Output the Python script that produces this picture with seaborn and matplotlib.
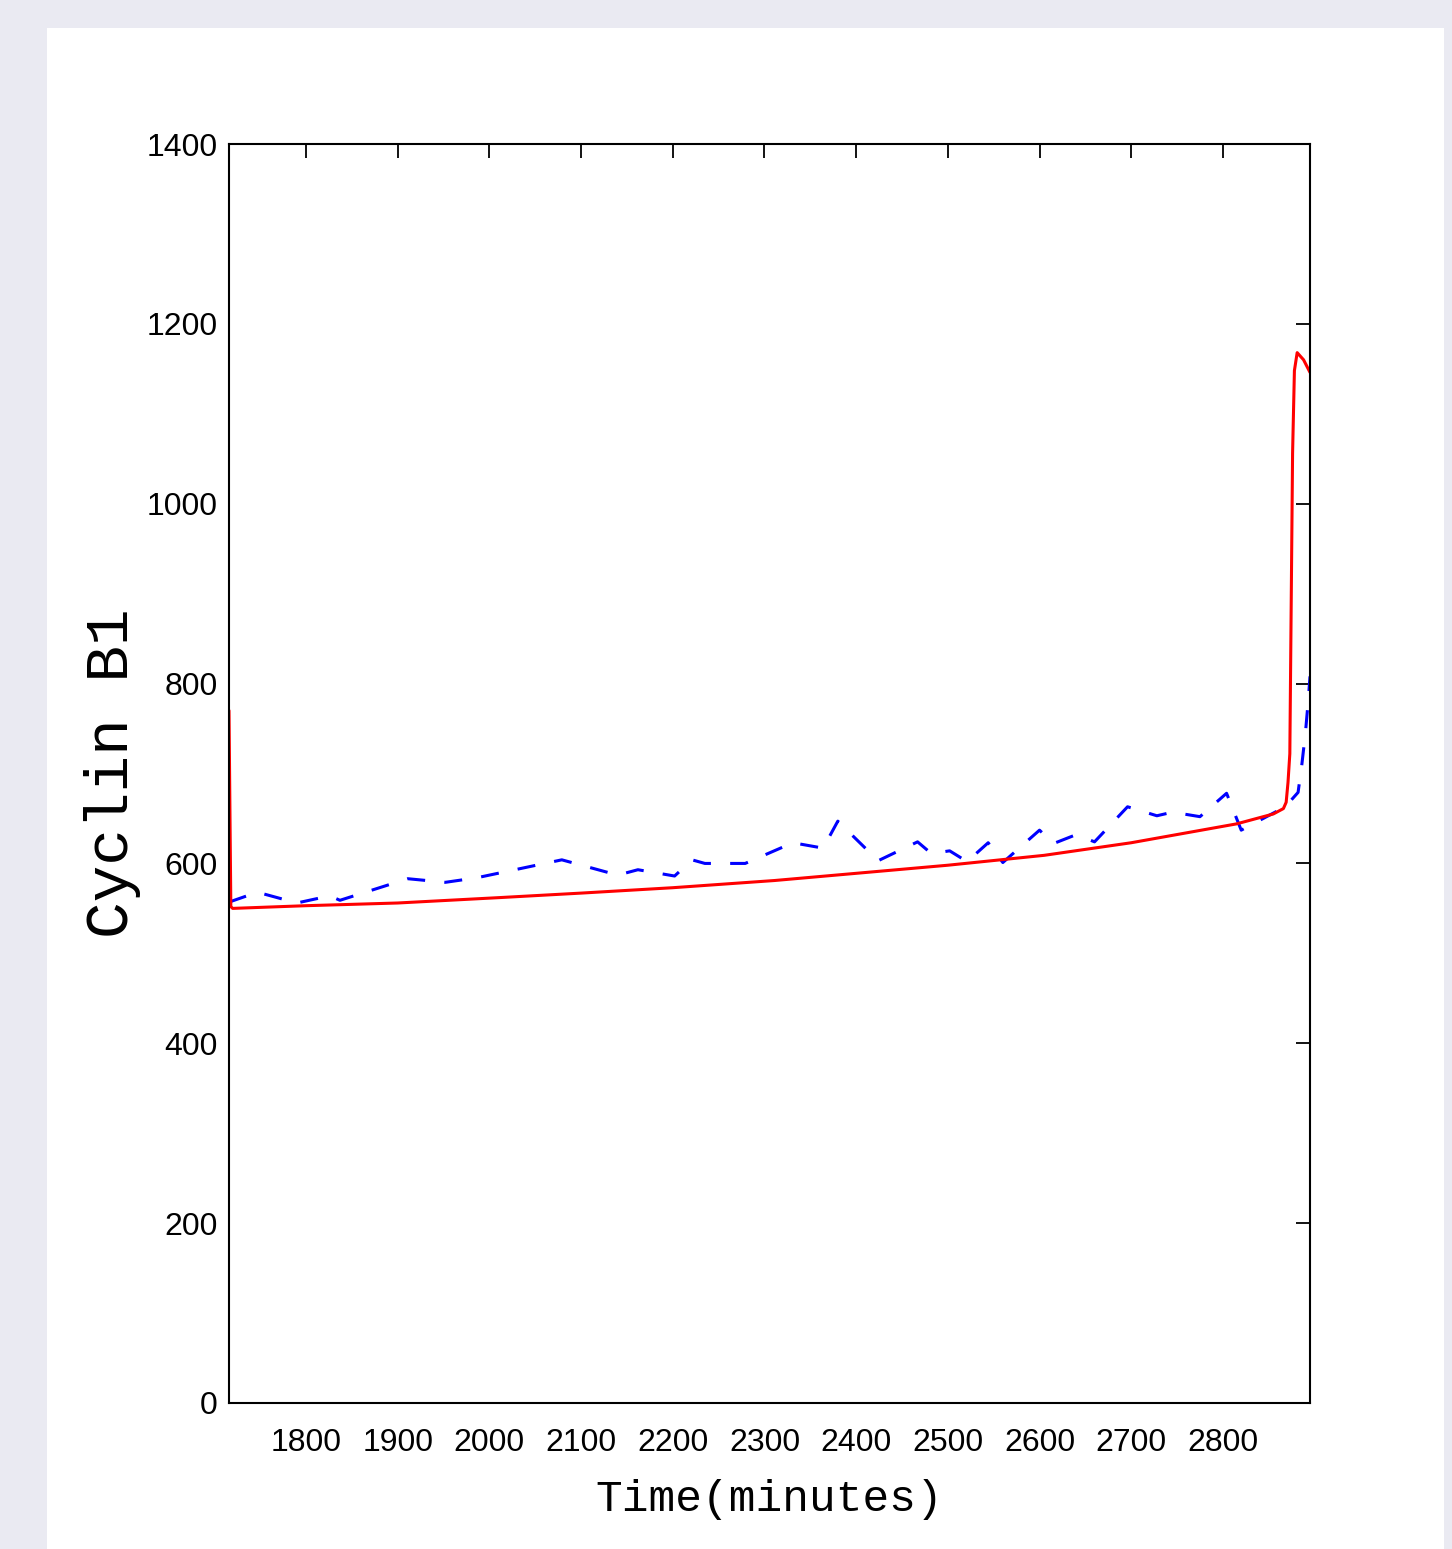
import numpy as np
import pandas as pd
import seaborn as sns
import matplotlib
matplotlib.use('Agg')
import matplotlib.pyplot as plt
from matplotlib.patches import Rectangle

# model curve (red)
model_t = [1716, 1718, 1720, 1800, 1900, 2011, 2100, 2200, 2311, 2400, 2500, 2605,
           2700, 2815, 2855, 2866, 2869, 2871, 2873, 2876, 2878, 2881, 2888, 2895]
model_cyc = [770, 552, 550, 553, 556, 562, 567, 573, 581, 589, 598, 609,
             623, 644, 655, 661, 668, 690, 722, 1056, 1148, 1168, 1160, 1146]

# measured data (blue dashed)
data_t = [1716, 1747, 1790, 1826, 1837, 1911, 1952, 1986, 2079, 2140, 2162, 2202,
          2221, 2235, 2279, 2331, 2364, 2380, 2424, 2467, 2482, 2502, 2521, 2544,
          2560, 2600, 2615, 2640, 2660, 2696, 2728, 2745, 2775, 2804, 2820, 2868,
          2882, 2886, 2890, 2893, 2895]
data_cyc = [557, 568, 556, 564, 559, 583, 579, 584, 604, 587, 593, 586,
            604, 600, 600, 623, 617, 647, 603, 624, 611, 614, 602, 623,
            601, 637, 622, 632, 624, 663, 653, 657, 652, 678, 637, 663,
            679, 709, 745, 780, 808]

xticks = [1800, 1900, 2000, 2100, 2200, 2300, 2400, 2500, 2600, 2700, 2800]
yticks = [0, 200, 400, 600, 800, 1000, 1200, 1400]

sns.set_style('white')
plt.rcParams['font.family'] = ['Liberation Sans', 'DejaVu Sans']

fig = plt.figure(figsize=(14.52, 15.49), dpi=100, facecolor='#EAEAF2')
fig.patches.append(Rectangle((47/1452, 0), (1444-47)/1452, (1549-28)/1549,
                             transform=fig.transFigure, facecolor='white',
                             edgecolor='none', zorder=-10))

ax = fig.add_axes([229/1452, 1 - 1403/1549, (1310-229)/1452, (1403-144)/1549])
ax.set_facecolor('white')

df_model = pd.DataFrame({'t': model_t, 'c': model_cyc})
df_data = pd.DataFrame({'t': data_t, 'c': data_cyc})

sns.lineplot(data=df_data, x='t', y='c', ax=ax, color='#0000FF', linewidth=2.2,
             linestyle=(0, (5.9, 6.3)), sort=False, estimator=None)
sns.lineplot(data=df_model, x='t', y='c', ax=ax, color='#FF0000', linewidth=2.2,
             sort=False, estimator=None)

ax.set_xlim(1716, 2895)
ax.set_ylim(0, 1400)
ax.set_xticks(xticks)
ax.set_yticks(yticks)
ax.tick_params(direction='in', length=10, width=1.3, color='black',
               top=True, right=True, labelsize=23, colors='black')
ax.tick_params(axis='x', pad=18)
ax.tick_params(axis='y', pad=8)
for s in ax.spines.values():
    s.set_visible(True)
    s.set_color('black')
    s.set_linewidth(1.5)

ax.set_xlabel('Time(minutes)', family=['Liberation Mono', 'DejaVu Sans Mono'],
              fontsize=32, labelpad=15, color='black')
ax.set_ylabel('Cyclin B1', family=['Liberation Mono', 'DejaVu Sans Mono'],
              fontsize=44, labelpad=4, color='black')

fig.savefig('out.png', dpi=100, facecolor=fig.get_facecolor())
